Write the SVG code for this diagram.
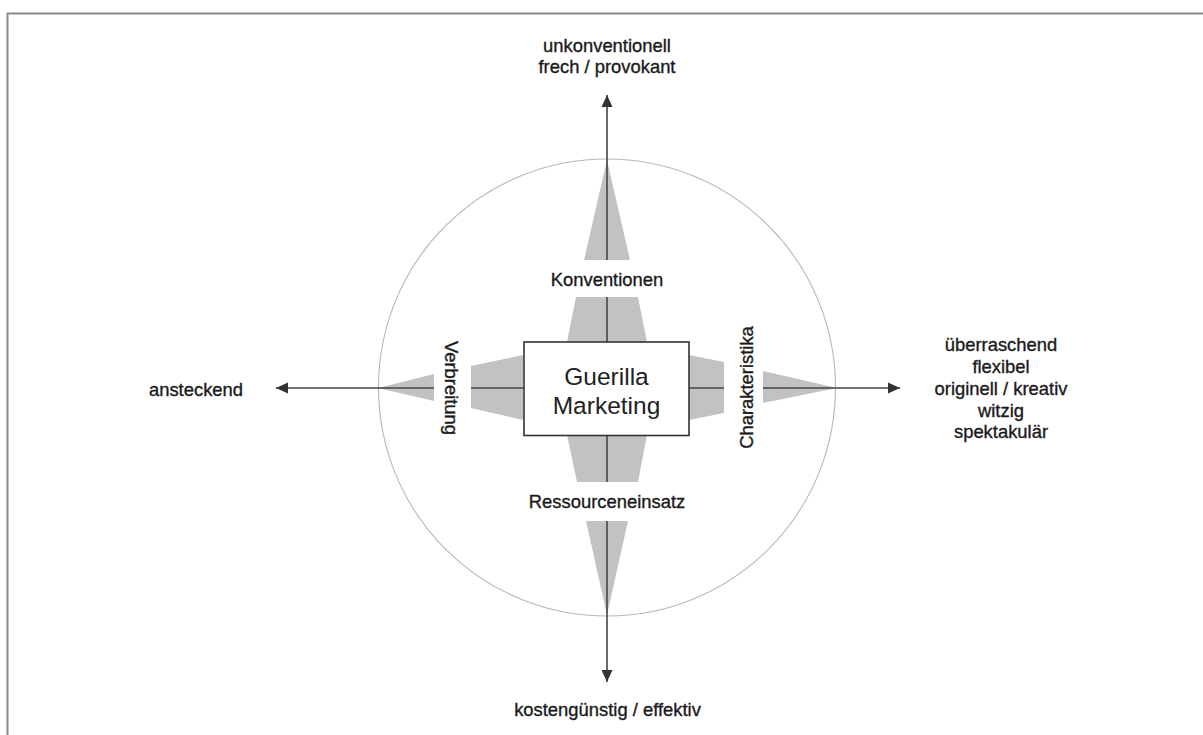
<svg xmlns="http://www.w3.org/2000/svg" width="1203" height="735" viewBox="0 0 1203 735">
  <style>
    .lbl { font-family: "Liberation Sans", Arial, sans-serif; font-size: 18.4px; fill: #1a1a1a; stroke: #1a1a1a; stroke-width: 0.35px; text-anchor: middle; }
    .title { font-family: "Liberation Sans", Arial, sans-serif; font-size: 24.5px; fill: #222; text-anchor: middle; }
    .wedge { fill: #c2c2c2; stroke: none; }
    .axis { stroke: #454545; stroke-width: 1.6; fill: none; }
  </style>
  <defs>
    <marker id="arrow" viewBox="0 0 12 12" refX="12" refY="6" markerWidth="12" markerHeight="12" markerUnits="userSpaceOnUse" orient="auto">
      <path d="M0,0.5 L12,6 L0,11.5 Z" fill="#333"/>
    </marker>
  </defs>
  <rect x="0" y="0" width="1203" height="735" fill="#fff"/>
  <path d="M7.5,735 V13.5 H1203" fill="none" stroke="#8a8a8a" stroke-width="2"/>

  <g id="circle">
    <circle cx="607" cy="387.5" r="228.5" fill="none" stroke="#b8b8b8" stroke-width="1.1"/>
  </g>

  <g id="wedges">
    <polygon class="wedge" points="607,160 584,260 630,260"/>
    <polygon class="wedge" points="576,297 638,297 647,342 567,342"/>
    <polygon class="wedge" points="567,435 647,435 638,482 577,482"/>
    <polygon class="wedge" points="586,521 628,521 607,615"/>
    <polygon class="wedge" points="471,366 523,355 523,420 471,408"/>
    <polygon class="wedge" points="434,374 434,401 378,388"/>
    <polygon class="wedge" points="689,355 724,362 724,413 689,420"/>
    <polygon class="wedge" points="763,371 763,403 837,388"/>
  </g>

  <g id="connectors">
    <line class="axis" x1="607" y1="260" x2="607" y2="95" marker-end="url(#arrow)"/>
    <line class="axis" x1="607" y1="297" x2="607" y2="342"/>
    <line class="axis" x1="607" y1="435" x2="607" y2="482"/>
    <line class="axis" x1="607" y1="521" x2="607" y2="682" marker-end="url(#arrow)"/>
    <line class="axis" x1="434" y1="388" x2="276" y2="388" marker-end="url(#arrow)"/>
    <line class="axis" x1="471" y1="388" x2="524" y2="388"/>
    <line class="axis" x1="689" y1="388" x2="724" y2="388"/>
    <line class="axis" x1="763" y1="388" x2="900" y2="388" marker-end="url(#arrow)"/>
  </g>

  <g id="center-node">
    <rect x="524" y="342" width="165" height="93.5" fill="#fff" stroke="#333" stroke-width="1.6"/>
    <text class="title" x="606.5" y="385">Guerilla</text>
    <text class="title" x="606.5" y="414">Marketing</text>
  </g>

  <g id="label-konventionen">
    <text class="lbl" x="607" y="286">Konventionen</text>
  </g>
  <g id="label-ressourceneinsatz">
    <text class="lbl" x="607" y="508">Ressourceneinsatz</text>
  </g>
  <g id="label-verbreitung">
    <text class="lbl" transform="translate(445,388) rotate(90)" x="0" y="0">Verbreitung</text>
  </g>
  <g id="label-charakteristika">
    <text class="lbl" transform="translate(753,387.5) rotate(-90)" x="0" y="0">Charakteristika</text>
  </g>

  <g id="pole-top">
    <text class="lbl" x="607" y="52">unkonventionell</text>
    <text class="lbl" x="607" y="73">frech / provokant</text>
  </g>
  <g id="pole-bottom">
    <text class="lbl" x="607.5" y="716">kostengünstig / effektiv</text>
  </g>
  <g id="pole-left">
    <text class="lbl" x="196" y="396">ansteckend</text>
  </g>
  <g id="pole-right">
    <text class="lbl" x="1001" y="351">überraschend</text>
    <text class="lbl" x="1001" y="373">flexibel</text>
    <text class="lbl" x="1001" y="395">originell / kreativ</text>
    <text class="lbl" x="1001" y="417">witzig</text>
    <text class="lbl" x="1001" y="438">spektakulär</text>
  </g>
</svg>
